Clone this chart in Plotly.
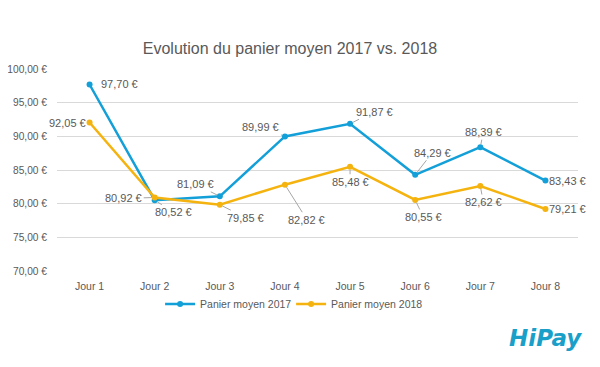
import plotly.graph_objects as go

categories = ["Jour 1", "Jour 2", "Jour 3", "Jour 4", "Jour 5", "Jour 6", "Jour 7", "Jour 8"]
panier_2017 = [97.70, 80.52, 81.09, 89.99, 91.87, 84.29, 88.39, 83.43]
panier_2018 = [92.05, 80.92, 79.85, 82.82, 85.48, 80.55, 82.62, 79.21]
y_ticks = [70, 75, 80, 85, 90, 95, 100]
y_tick_labels = ["70,00 €", "75,00 €", "80,00 €", "85,00 €", "90,00 €", "95,00 €", "100,00 €"]

BLUE = "#139fd8"
ORANGE = "#f5b30f"
GREY = "#595959"
FONT = "Liberation Sans"

# page body has an 8px default margin; compensate
OFF = 8
W, H = 600 - OFF, 367 - OFF
L, R, T, B = 57 - OFF, 22, 69 - OFF, 96
PW, PH = W - L - R, H - T - B

def fmt(v):
    return f"{v:.2f}".replace(".", ",") + " €"

fig = go.Figure()
fig.add_trace(go.Scatter(x=categories, y=panier_2017, mode="lines+markers",
                         name="Panier moyen 2017",
                         line=dict(color=BLUE, width=2.5),
                         marker=dict(size=6, color=BLUE)))
fig.add_trace(go.Scatter(x=categories, y=panier_2018, mode="lines+markers",
                         name="Panier moyen 2018",
                         line=dict(color=ORANGE, width=2.5),
                         marker=dict(size=6, color=ORANGE)))

# label offsets in pixels (dx, dy) relative to point; arrow flag for leader line
off_2017 = [(30, 0, False), (19, 12, True), (-24, -12, True), (-24, -9, True),
            (24, -12, True), (17, -22, True), (3, -15, True), (22, 0, False)]
off_2018 = [(-22, 0, False), (-31, 1, True), (26, 13, True), (22, 35, True),
            (0, 15, True), (8, 17, True), (3, 16, True), (22, 0, False)]

annotations = []
for vals, offs in ((panier_2017, off_2017), (panier_2018, off_2018)):
    for i, (v, (dx, dy, arrow)) in enumerate(zip(vals, offs)):
        if arrow:
            annotations.append(dict(x=categories[i], y=v, xref="x", yref="y",
                                    text=fmt(v), showarrow=True, arrowhead=0,
                                    arrowwidth=1, arrowcolor="#a6a6a6",
                                    ax=dx, ay=dy, standoff=3,
                                    font=dict(family=FONT, size=11, color=GREY)))
        else:
            annotations.append(dict(x=categories[i], y=v, xref="x", yref="y",
                                    text=fmt(v), showarrow=False,
                                    xshift=dx, yshift=-dy,
                                    font=dict(family=FONT, size=11, color=GREY)))

# HiPay logo as text
annotations.append(dict(x=(545 - OFF - L) / PW, y=1 - (338 - OFF - T) / PH,
                        xref="paper", yref="paper", xanchor="center", yanchor="middle",
                        text="<b><i>HiPay</i></b>", showarrow=False,
                        font=dict(family="DejaVu Sans", size=23, color="#1aa0c8")))

fig.update_layout(
    width=W, height=H,
    margin=dict(l=L, r=R, t=T, b=B, autoexpand=False),
    paper_bgcolor="white", plot_bgcolor="white",
    title=dict(text="Evolution du panier moyen 2017 vs. 2018",
               x=(290 - OFF) / W, xanchor="center", y=1 - (48 - OFF) / H, yanchor="middle",
               font=dict(family=FONT, size=16, color=GREY)),
    font=dict(family=FONT, size=11, color=GREY),
    showlegend=True,
    legend=dict(orientation="h", x=(274 - OFF) / W, xanchor="center", y=1 - (304 - OFF) / H,
                yanchor="middle", yref="container",
                font=dict(family=FONT, size=10.5, color=GREY),
                entrywidth=86, entrywidthmode="pixels", itemwidth=30),
    annotations=annotations,
)
fig.update_xaxes(type="category", range=[-0.5, 7.5], showgrid=False,
                 showline=False, zeroline=False, ticks="",
                 tickfont=dict(family=FONT, size=10.5, color=GREY),
                 ticklabelstandoff=7)
fig.update_yaxes(range=[70, 100], tickvals=y_ticks, ticktext=y_tick_labels,
                 showgrid=True, gridcolor="#d9d9d9", gridwidth=1,
                 zeroline=False, showline=False, ticks="",
                 tickfont=dict(family=FONT, size=10.2, color=GREY),
                 ticklabelstandoff=9)

fig.write_html("out.html")
